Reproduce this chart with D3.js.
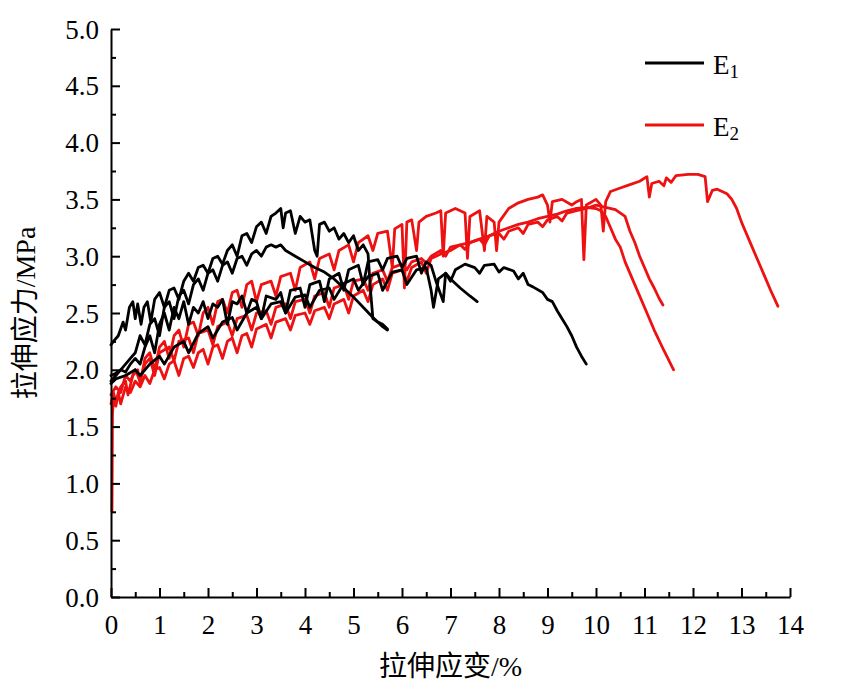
<!DOCTYPE html>
<html>
<head>
<meta charset="utf-8">
<script src="https://cdn.jsdelivr.net/npm/d3@7"></script>
<style>
  html, body { margin: 0; padding: 0; background: #ffffff; }
  svg { display: block; }
</style>
</head>
<body>
<script>
// ---------------- DATA ----------------
const xTickValues = [0,1,2,3,4,5,6,7,8,9,10,11,12,13,14];
const xMinorValues = [0.5,1.5,2.5,3.5,4.5,5.5,6.5,7.5,8.5,9.5,10.5,11.5,12.5,13.5];
const yTickValues = [0,0.5,1,1.5,2,2.5,3,3.5,4,4.5,5];
const yTickLabels = ["0.0","0.5","1.0","1.5","2.0","2.5","3.0","3.5","4.0","4.5","5.0"];
const yMinorValues = [0.25,0.75,1.25,1.75,2.25,2.75,3.25,3.75,4.25,4.75];
const seriesNames = ["E1","E2"];
const seriesColors = ["#000000","#ee1111"];

// E1 (black) specimens: [strain %, stress MPa]
const e1A = [[0,2.22],[0.05,2.25],[0.15,2.3],[0.25,2.42],[0.3,2.35],[0.38,2.55],[0.45,2.6],[0.5,2.45],[0.55,2.58],[0.62,2.4],[0.68,2.55],[0.75,2.6],[0.82,2.42],[0.9,2.62],[1.0,2.68],[1.1,2.55],[1.2,2.7],[1.3,2.72],[1.4,2.62],[1.5,2.78],[1.6,2.85],[1.7,2.78],[1.8,2.9],[1.9,2.92],[2.0,2.85],[2.1,2.98],[2.2,3.0],[2.3,2.93],[2.4,3.05],[2.5,3.1],[2.6,3.0],[2.7,3.18],[2.8,3.2],[2.9,3.12],[3.0,3.26],[3.1,3.3],[3.2,3.2],[3.3,3.35],[3.4,3.38],[3.5,3.42],[3.55,3.25],[3.6,3.38],[3.7,3.4],[3.8,3.2],[3.9,3.35],[4.0,3.3],[4.1,3.32],[4.2,3.05],[4.25,3.0],[4.3,3.28],[4.4,3.3],[4.5,3.22],[4.6,3.25],[4.7,3.15],[4.8,3.2],[4.9,3.12],[5.0,3.18],[5.1,3.05],[5.2,3.1],[5.3,3.02],[5.35,2.7],[5.4,2.45],[5.5,2.42],[5.6,2.38],[5.7,2.35]];
const e1B = [[0,1.95],[0.1,1.97],[0.2,2.0],[0.3,2.05],[0.4,2.1],[0.5,2.15],[0.6,2.3],[0.7,2.22],[0.8,2.4],[0.9,2.45],[1.0,2.3],[1.1,2.55],[1.2,2.6],[1.3,2.45],[1.4,2.65],[1.5,2.7],[1.6,2.58],[1.7,2.75],[1.8,2.8],[1.9,2.7],[2.0,2.85],[2.1,2.88],[2.2,2.78],[2.3,2.92],[2.4,2.95],[2.5,2.85],[2.6,2.98],[2.7,3.0],[2.8,2.92],[2.9,3.02],[3.0,3.05],[3.1,3.0],[3.2,3.08],[3.3,3.1],[3.4,3.08],[3.5,3.1],[3.6,3.05],[3.8,3.0],[4.0,2.95],[4.2,2.9],[4.4,2.86],[4.6,2.8],[4.8,2.72],[5.0,2.64],[5.2,2.55],[5.4,2.46],[5.5,2.42],[5.6,2.4],[5.7,2.36]];
const e1C = [[0,1.9],[0.1,1.95],[0.2,2.0],[0.3,1.98],[0.4,2.05],[0.5,2.1],[0.6,2.05],[0.7,2.2],[0.8,2.3],[0.9,2.15],[1.0,2.4],[1.1,2.5],[1.2,2.35],[1.3,2.55],[1.4,2.45],[1.5,2.6],[1.6,2.4],[1.7,2.55],[1.8,2.5],[1.9,2.6],[2.0,2.45],[2.1,2.58],[2.2,2.55],[2.3,2.62],[2.4,2.4],[2.5,2.6],[2.6,2.58],[2.7,2.65],[2.8,2.5],[2.9,2.62],[3.0,2.6],[3.1,2.45],[3.2,2.65],[3.4,2.62],[3.5,2.68],[3.6,2.5],[3.7,2.7],[3.9,2.72],[4.0,2.55],[4.1,2.75],[4.3,2.78],[4.4,2.6],[4.5,2.8],[4.7,2.85],[4.8,2.7],[4.9,2.88],[5.1,2.92],[5.2,2.75],[5.3,2.95],[5.5,2.97],[5.6,2.88],[5.7,2.98],[5.9,3.0],[6.0,2.9],[6.1,2.98],[6.3,3.0],[6.4,2.85],[6.5,2.95],[6.6,2.92],[6.7,2.78],[6.85,2.6],[6.9,2.85],[7.0,2.8],[7.2,2.72],[7.4,2.65],[7.55,2.6]];
const e1D = [[0,1.88],[0.1,1.92],[0.3,1.95],[0.5,2.0],[0.6,1.95],[0.8,2.05],[1.0,2.12],[1.1,2.05],[1.3,2.2],[1.5,2.25],[1.6,2.15],[1.8,2.32],[2.0,2.38],[2.1,2.28],[2.3,2.42],[2.5,2.46],[2.6,2.35],[2.8,2.5],[3.0,2.55],[3.1,2.45],[3.3,2.58],[3.5,2.6],[3.6,2.5],[3.8,2.64],[4.0,2.66],[4.1,2.55],[4.3,2.7],[4.5,2.72],[4.6,2.62],[4.8,2.76],[5.0,2.8],[5.1,2.7],[5.3,2.82],[5.5,2.85],[5.6,2.7],[5.8,2.86],[6.0,2.88],[6.1,2.75],[6.3,2.88],[6.5,2.9],[6.6,2.7],[6.65,2.55],[6.75,2.8],[6.9,2.85],[7.0,2.78],[7.1,2.88],[7.3,2.93],[7.5,2.9],[7.6,2.85],[7.7,2.92],[7.9,2.93],[8.0,2.86],[8.1,2.9],[8.3,2.87],[8.4,2.8],[8.5,2.85],[8.6,2.75],[8.7,2.73],[8.9,2.68],[9.0,2.62],[9.1,2.6],[9.2,2.52],[9.3,2.45],[9.4,2.38],[9.5,2.3],[9.6,2.2],[9.7,2.12],[9.8,2.05]];

// E2 (red) specimens
const e2A = [[0,1.7],[0.05,1.8],[0.1,1.72],[0.2,1.85],[0.3,1.9],[0.35,1.78],[0.45,1.95],[0.55,2.0],[0.6,1.88],[0.7,2.1],[0.8,2.15],[0.9,2.0],[1.0,2.2],[1.1,2.25],[1.2,2.1],[1.3,2.3],[1.4,2.35],[1.5,2.2],[1.6,2.4],[1.7,2.42],[1.8,2.3],[1.9,2.5],[2.0,2.55],[2.1,2.4],[2.2,2.6],[2.3,2.62],[2.4,2.5],[2.5,2.68],[2.6,2.7],[2.7,2.55],[2.8,2.75],[2.9,2.78],[3.0,2.6],[3.1,2.75],[3.3,2.78],[3.4,2.65],[3.5,2.82],[3.7,2.85],[3.8,2.7],[3.9,2.9],[4.1,2.95],[4.2,2.8],[4.3,2.98],[4.5,3.02],[4.6,2.88],[4.7,3.05],[4.9,3.1],[5.0,2.95],[5.1,3.12],[5.3,3.18],[5.4,3.05],[5.5,3.2],[5.7,3.22],[5.8,2.9],[5.85,3.24],[6.0,3.28],[6.05,2.72],[6.1,3.3],[6.2,3.32],[6.3,3.05],[6.35,3.3],[6.5,3.35],[6.7,3.38],[6.8,3.4],[6.85,3.0],[6.9,3.38],[7.1,3.42],[7.3,3.38],[7.35,2.98],[7.4,3.35],[7.6,3.4],[7.7,3.05],[7.75,3.35],[7.9,3.3],[7.95,3.05],[8.0,3.3],[8.2,3.42],[8.4,3.47],[8.6,3.5],[8.8,3.52],[8.9,3.54],[9.0,3.45],[9.05,3.3],[9.1,3.48],[9.3,3.5],[9.5,3.45],[9.6,3.48],[9.7,3.5],[9.75,2.97],[9.8,3.45],[10.0,3.5],[10.1,3.45],[10.15,3.22],[10.2,3.48],[10.3,3.57],[10.5,3.6],[10.7,3.63],[10.9,3.66],[11.05,3.7],[11.1,3.52],[11.15,3.64],[11.3,3.66],[11.4,3.62],[11.45,3.69],[11.55,3.65],[11.65,3.71],[11.9,3.72],[12.1,3.72],[12.25,3.7],[12.3,3.48],[12.4,3.58],[12.5,3.59],[12.7,3.55],[12.8,3.5],[12.9,3.42],[13.0,3.3],[13.1,3.2],[13.2,3.1],[13.3,3.0],[13.4,2.9],[13.5,2.8],[13.6,2.7],[13.75,2.56]];
const e2B = [[0,1.78],[0.1,1.85],[0.2,1.8],[0.3,1.95],[0.4,1.9],[0.5,2.0],[0.6,1.9],[0.7,2.05],[0.8,2.1],[0.9,1.95],[1.0,2.15],[1.2,2.2],[1.3,2.08],[1.4,2.25],[1.6,2.28],[1.7,2.15],[1.8,2.32],[2.0,2.35],[2.1,2.22],[2.2,2.38],[2.4,2.42],[2.5,2.3],[2.6,2.45],[2.8,2.48],[2.9,2.35],[3.0,2.5],[3.2,2.52],[3.3,2.4],[3.4,2.55],[3.6,2.58],[3.7,2.45],[3.8,2.6],[4.0,2.62],[4.1,2.5],[4.2,2.65],[4.4,2.68],[4.5,2.55],[4.6,2.72],[4.8,2.75],[4.9,2.62],[5.0,2.78],[5.2,2.8],[5.3,2.7],[5.4,2.85],[5.6,2.88],[5.7,2.78],[5.8,2.9],[6.0,2.93],[6.1,2.88],[6.2,2.95],[6.4,2.98],[6.5,2.94],[6.6,3.0],[6.8,3.05],[6.9,3.0],[7.0,3.08],[7.2,3.1],[7.3,3.06],[7.4,3.12],[7.6,3.15],[7.7,3.1],[7.8,3.18],[8.0,3.2],[8.1,3.15],[8.2,3.22],[8.4,3.25],[8.5,3.2],[8.6,3.28],[8.8,3.3],[8.9,3.26],[9.0,3.32],[9.2,3.35],[9.3,3.31],[9.4,3.38],[9.6,3.4],[9.8,3.42],[10.0,3.45],[10.2,3.43],[10.4,3.41],[10.6,3.35],[10.7,3.22],[10.8,3.12],[10.9,3.0],[11.0,2.9],[11.1,2.8],[11.2,2.72],[11.3,2.63],[11.38,2.57]];
const e2C = [[0.02,0.75],[0.03,1.6],[0.05,1.75],[0.1,1.68],[0.15,1.8],[0.2,1.7],[0.3,1.85],[0.4,1.8],[0.5,1.9],[0.6,1.85],[0.7,1.95],[0.8,1.88],[0.9,2.0],[1.0,2.02],[1.1,1.92],[1.2,2.05],[1.3,2.08],[1.4,1.95],[1.5,2.1],[1.6,2.12],[1.7,2.02],[1.8,2.15],[1.9,2.18],[2.0,2.05],[2.1,2.2],[2.2,2.22],[2.3,2.1],[2.4,2.25],[2.5,2.28],[2.6,2.15],[2.7,2.3],[2.8,2.32],[2.9,2.2],[3.0,2.36],[3.2,2.4],[3.3,2.28],[3.4,2.42],[3.6,2.45],[3.7,2.35],[3.8,2.48],[4.0,2.5],[4.1,2.4],[4.2,2.52],[4.4,2.55],[4.5,2.45],[4.6,2.58],[4.8,2.62],[4.9,2.5],[5.0,2.65],[5.2,2.7],[5.3,2.6],[5.4,2.75],[5.6,2.8],[5.7,2.7],[5.8,2.85],[6.0,2.88],[6.1,2.78],[6.2,2.9],[6.4,2.95],[6.5,2.85],[6.6,2.98],[6.8,3.02],[7.0,3.05],[7.2,3.1],[7.4,3.12],[7.6,3.15],[7.8,3.18],[8.0,3.22],[8.2,3.25],[8.4,3.28],[8.6,3.3],[8.8,3.33],[9.0,3.35],[9.2,3.37],[9.4,3.4],[9.6,3.42],[9.8,3.43],[10.0,3.42],[10.1,3.4],[10.2,3.35],[10.3,3.25],[10.4,3.15],[10.5,3.08],[10.6,2.95],[10.8,2.75],[11.0,2.55],[11.2,2.35],[11.4,2.17],[11.6,2.0]];

const e1Curves = [e1A, e1B, e1C, e1D];
const e2Curves = [e2A, e2B, e2C];

// ---------------- CHART ----------------
const W = 866, H = 695;
const svg = d3.select("body").append("svg").attr("width", W).attr("height", H);

const x = d3.scaleLinear().domain([0, 14]).range([111, 790]);
const y = d3.scaleLinear().domain([0, 5]).range([597, 29]);

const line = d3.line().x(d => x(d[0])).y(d => y(d[1]));

const plot = svg.append("g");
plot.selectAll("path.e2").data(e2Curves).join("path")
  .attr("class", "e2").attr("d", line)
  .attr("fill", "none").attr("stroke", seriesColors[1])
  .attr("stroke-width", 2.8).attr("stroke-linejoin", "round").attr("stroke-linecap", "round");
plot.selectAll("path.e1").data(e1Curves).join("path")
  .attr("class", "e1").attr("d", line)
  .attr("fill", "none").attr("stroke", seriesColors[0])
  .attr("stroke-width", 2.8).attr("stroke-linejoin", "round").attr("stroke-linecap", "round");

// Axes
const fontTick = 27;
const xAxis = svg.append("g").attr("transform", `translate(0,${y(0)})`)
  .call(d3.axisBottom(x).tickValues(xTickValues).tickSizeInner(-9).tickSizeOuter(0).tickPadding(20)
    .tickFormat(d3.format("d")));
const xMinor = svg.append("g").attr("transform", `translate(0,${y(0)})`)
  .call(d3.axisBottom(x).tickValues(xMinorValues).tickSizeInner(-5).tickSizeOuter(0).tickFormat(""));
xMinor.select(".domain").remove();

const yAxis = svg.append("g").attr("transform", `translate(${x(0)},0)`)
  .call(d3.axisLeft(y).tickValues(yTickValues).tickSizeInner(-9).tickSizeOuter(0).tickPadding(20)
    .tickFormat((d, i) => yTickLabels[i]));
const yMinor = svg.append("g").attr("transform", `translate(${x(0)},0)`)
  .call(d3.axisLeft(y).tickValues(yMinorValues).tickSizeInner(-5).tickSizeOuter(0).tickFormat(""));
yMinor.select(".domain").remove();

svg.selectAll(".domain").attr("stroke", "#000").attr("stroke-width", 2);
svg.selectAll(".tick line").attr("stroke", "#000").attr("stroke-width", 2);
svg.selectAll(".tick text").attr("font-size", fontTick).attr("fill", "#000")
  .attr("font-family", "'Liberation Serif', 'Times New Roman', serif");
xAxis.selectAll(".tick text").attr("dy", "0.71em").attr("y", 18);
yAxis.selectAll(".tick text").attr("x", -12).attr("dy", "0.34em");

// Axis titles
svg.append("text")
  .attr("x", (x(0) + x(14)) / 2).attr("y", 676)
  .attr("text-anchor", "middle")
  .attr("font-family", "'Liberation Serif', 'Noto Sans CJK SC', serif")
  .attr("font-size", 28).attr("fill", "#000")
  .text("拉伸应变/%");
svg.append("text")
  .attr("transform", `translate(35,${(y(0) + y(5)) / 2}) rotate(-90)`)
  .attr("text-anchor", "middle")
  .attr("font-family", "'Liberation Serif', 'Noto Sans CJK SC', serif")
  .attr("font-size", 28).attr("fill", "#000")
  .text("拉伸应力/MPa");

// Legend
const legendY = [63, 125];
const legend = svg.append("g");
seriesNames.forEach((name, i) => {
  legend.append("line")
    .attr("x1", 645).attr("x2", 704)
    .attr("y1", legendY[i]).attr("y2", legendY[i])
    .attr("stroke", seriesColors[i]).attr("stroke-width", 2.8);
  const t = legend.append("text")
    .attr("x", 713).attr("y", legendY[i] + 11)
    .attr("font-family", "'Liberation Serif', 'Times New Roman', serif")
    .attr("font-size", 27).attr("fill", "#000");
  t.append("tspan").text(name.charAt(0));
  t.append("tspan").attr("font-size", 19).attr("dy", 4).text(name.slice(1));
});
</script>
</body>
</html>
